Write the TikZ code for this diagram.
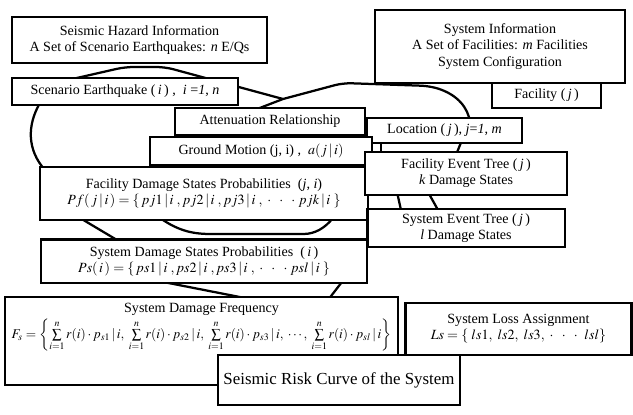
\documentclass[tikz,border=0pt]{standalone}
\usepackage{mathptmx}
\usepackage{fontspec}
\setmainfont{Liberation Serif}
\usetikzlibrary{positioning, calc, backgrounds}

\begin{document}
\begin{tikzpicture}[
    x=0.025cm, y=-0.025cm,
    infobox/.style={rectangle, draw=black, fill=white, line width=1.6pt, inner sep=1pt, align=center, font=\fontsize{10}{11.5}\selectfont},
    loopline/.style={line width=1.6pt, rounded corners=6pt}
]
\useasboundingbox (0,0) rectangle (633,415);

% Hazard information (top left)
\node[infobox, minimum width=6.38cm, minimum height=1.15cm] (hazard) at (139.5,40) {Seismic Hazard Information\\A Set of Scenario Earthquakes: \textit{n} E/Qs};

% System information (top right)
\node[infobox, minimum width=6.25cm, minimum height=1.83cm] (sysinfo) at (500,46.5) {System Information\\A Set of Facilities: \textit{m} Facilities\\System Configuration};

% Scenario loop (i)
\node[infobox, minimum width=5.65cm, minimum height=0.68cm] (scen) at (125,91.5) {Scenario Earthquake (\,\textit{i}\,) ,\ \ \textit{i} =\textit{1}, \textit{n}};

% Facility loop (j)
\node[infobox, minimum width=2.73cm, minimum height=0.63cm] (fac) at (546.5,95.5) {Facility (\,\textit{j}\,)};

\node[infobox, minimum width=4.75cm, minimum height=0.68cm] (atten) at (270,121.5) {Attenuation Relationship};
\node[infobox, minimum width=3.88cm, minimum height=0.63cm] (loc) at (444.5,130.5) {Location (\,\textit{j}\,), \textit{j}=\textit{1}, \textit{m}};
\node[infobox, minimum width=5.55cm, minimum height=0.7cm] (ground) at (261,151) {Ground Motion (j, i) ,\ \ $a(j\,|\,i)$};

% Facility damage
\node[infobox, minimum width=8.2cm, minimum height=1.33cm] (facdmg) at (204,193.5) {Facility Damage States Probabilities\ \ (\textit{j}, \textit{i})\\$Pf(\,j\,|\,i\,)=\{\,pj1\,|\,i\;,pj2\,|\,i\;,pj3\,|\,i\;,\;\cdot\;\;\cdot\;\;\cdot\; pjk\,|\,i\;\}$};
\node[infobox, minimum width=5.05cm, minimum height=1.08cm] (fet) at (466,173.5) {Facility Event Tree (\,\textit{j}\,)\\\textit{k} Damage States};
\node[infobox, minimum width=4.93cm, minimum height=0.95cm, below=0.3cm of fet] (set) {System Event Tree (\,\textit{j}\,)\\\textit{l} Damage States};

% System damage
\node[infobox, minimum width=8.13cm, minimum height=1.08cm, below=0.43cm of facdmg] (sysdmg) {System Damage States Probabilities\ \ (\,\textit{i}\,)\\$Ps(\,i\,)=\{\,ps1\,|\,i\;,ps2\,|\,i\;,ps3\,|\,i\;,\;\cdot\;\;\cdot\;\;\cdot\; psl\,|\,i\;\}$};

\node[infobox, minimum width=9.83cm, minimum height=2.2cm] (freq) at (201.5,341) {System Damage Frequency\\[1pt]{\fontsize{9.5}{10.5}\selectfont$F_s=\left\{\sum\limits_{i=1}^{n} r(i)\cdot p_{s1}\,|\,i,\;\sum\limits_{i=1}^{n} r(i)\cdot p_{s2}\,|\,i,\;\sum\limits_{i=1}^{n} r(i)\cdot p_{s3}\,|\,i,\;\cdots,\;\sum\limits_{i=1}^{n} r(i)\cdot p_{sl}\,|\,i\right\}$}\\[0.6cm]};
\node[infobox, minimum width=5.65cm, minimum height=1.3cm] (loss) at (518.5,329) {System Loss Assignment\\$Ls=\{\;ls1,\ ls2,\ ls3,\ \cdot\;\;\cdot\;\;\cdot\;\ lsl\}$};

% Result
\node[infobox, minimum width=6.05cm, minimum height=1.25cm, font=\fontsize{12}{14}\selectfont] (risk) at (339,380) {Seismic Risk Curve of the System};

% Loops behind the boxes
\begin{scope}[on background layer]
\coordinate (jn) at (283,99);
\draw[loopline] (68,80) -- (125,67) -- (165,67) -- (jn);
\draw[loopline] (jn) -- (252,111);
\draw[loopline] (jn) -- (343,83) -- (430,86) .. controls (458,95) and (468,108) .. (470,122);
\draw[loopline] (40,103) .. controls (27,125) and (27,150) .. (45,170);
\draw[loopline] (80,218) -- (117,240);
\draw[loopline] (160,218) .. controls (180,232) and (195,234) .. (220,234) -- (295,234) .. controls (315,234) and (325,228) .. (333,218);
\draw[loopline] (143,278) -- (255,300);
\draw[loopline] (328,300) -- (345,278);
\draw[loopline] (381,140) -- (381,155);
\draw[loopline] (462,140) -- (456,155);
\draw[loopline] (397,192) -- (401,210);
\draw[loopline] (428,192) -- (438,210);
\end{scope}

\end{tikzpicture}
\end{document}
